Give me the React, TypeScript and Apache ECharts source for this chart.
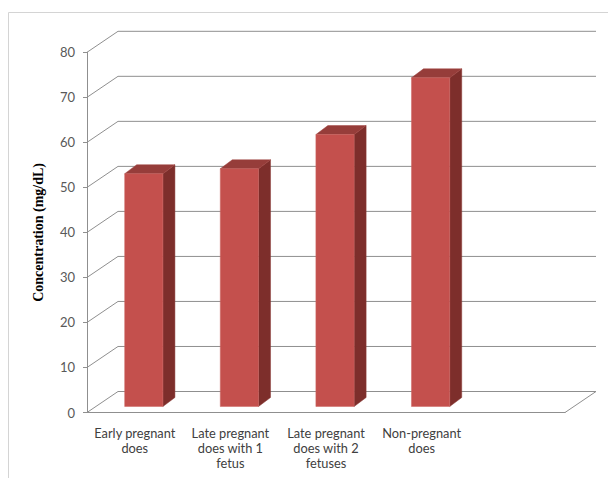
import React, { useEffect, useRef } from "react";
import * as echarts from "echarts";

const categories = [
  "Early pregnant\ndoes",
  "Late pregnant\ndoes with 1\nfetus",
  "Late pregnant\ndoes with 2\nfetuses",
  "Non-pregnant\ndoes",
  "",
];
const concentration = [51.7, 52.8, 60.4, 73.0];
const yTicks = [0, 10, 20, 30, 40, 50, 60, 70, 80];
const yAxisTitle = "Concentration (mg/dL)";

// 3D projection offsets (pixels)
const WALL_DX = 31;
const WALL_DY = 21;
const BAR_OFF_DX = 9;
const BAR_OFF_DY = 6;
const BAR_DX = 12;
const BAR_DY = 9;
const GRID_COLOR = "#8f8f8f";

export default function App() {
  const ref = useRef<HTMLDivElement>(null);
  useEffect(() => {
    if (!ref.current) return;
    const chart = echarts.init(ref.current, undefined, { renderer: "svg" });
    const option: any = {
      animation: false,
      backgroundColor: "#ffffff",
      grid: { left: 87, right: 43, top: 52.3, bottom: 68.5, containLabel: false },
      graphic: [
        {
          type: "polyline",
          shape: { points: [[8.5, 478], [8.5, 12.5], [608, 12.5]] },
          style: { stroke: "#d4d4d4", lineWidth: 1, fill: null },
          z: 0,
        },
      ],
      xAxis: {
        type: "category",
        data: categories,
        boundaryGap: true,
        axisLine: { show: true, lineStyle: { color: GRID_COLOR, width: 1 } },
        axisTick: { show: false },
        axisLabel: {
          interval: 0,
          margin: 13,
          fontFamily: "Lato",
          fontSize: 12.8,
          lineHeight: 15,
          color: "#404040",
        },
        splitLine: { show: false },
      },
      yAxis: {
        type: "value",
        min: 0,
        max: 80,
        interval: 10,
        name: yAxisTitle,
        nameLocation: "middle",
        nameGap: 42,
        nameTextStyle: {
          fontFamily: "Liberation Serif",
          fontWeight: "bold",
          fontSize: 14,
          color: "#000000",
        },
        axisLine: { show: true, lineStyle: { color: GRID_COLOR, width: 1 } },
        axisTick: { show: true, length: 4, lineStyle: { color: GRID_COLOR } },
        axisLabel: {
          margin: 12,
          fontFamily: "Lato",
          fontSize: 13,
          color: "#595959",
        },
        splitLine: { show: false },
      },
      series: [
        {
          type: "custom",
          z: 1,
          silent: true,
          data: yTicks.map((v) => [0, v]),
          renderItem: (params: any, api: any) => {
            const cs = params.coordSys;
            const v = api.value(1);
            const p = api.coord([0, v]);
            const y = p[1];
            const x0 = cs.x;
            const x1 = cs.x + cs.width;
            const children: any[] = [
              {
                type: "polyline",
                shape: {
                  points: [
                    [x0, y],
                    [x0 + WALL_DX, y - WALL_DY],
                    [x1 + WALL_DX, y - WALL_DY],
                  ],
                },
                style: { stroke: GRID_COLOR, lineWidth: 1, fill: null },
              },
            ];
            if (v === 0) {
              children.push({
                type: "line",
                shape: { x1: x1, y1: y, x2: x1 + WALL_DX, y2: y - WALL_DY },
                style: { stroke: GRID_COLOR, lineWidth: 1 },
              });
            }
            return { type: "group", children };
          },
        },
        {
          type: "custom",
          z: 2,
          data: concentration.map((v, i) => [i, v]),
          renderItem: (params: any, api: any) => {
            const i = api.value(0);
            const v = api.value(1);
            const top = api.coord([i, v]);
            const base = api.coord([i, 0]);
            const band = api.size([1, 0])[0];
            const w = band * 0.4;
            const xl = top[0] - w / 2 + BAR_OFF_DX;
            const xr = xl + w;
            const yt = top[1] - BAR_OFF_DY;
            const yb = base[1] - BAR_OFF_DY;
            return {
              type: "group",
              children: [
                {
                  type: "polygon",
                  shape: {
                    points: [
                      [xr, yt],
                      [xr + BAR_DX, yt - BAR_DY],
                      [xr + BAR_DX, yb - BAR_DY],
                      [xr, yb],
                    ],
                  },
                  style: { fill: "#7d2e2b", stroke: "#8a3835", lineWidth: 0.5 },
                },
                {
                  type: "polygon",
                  shape: {
                    points: [
                      [xl, yt],
                      [xl + BAR_DX, yt - BAR_DY],
                      [xr + BAR_DX, yt - BAR_DY],
                      [xr, yt],
                    ],
                  },
                  style: { fill: "#963d3a", stroke: "#a04441", lineWidth: 0.5 },
                },
                {
                  type: "rect",
                  shape: { x: xl, y: yt, width: w, height: yb - yt },
                  style: { fill: "#c4504d", stroke: "#cc6663", lineWidth: 0.5 },
                },
              ],
            };
          },
        },
      ],
    };
    chart.setOption(option);
    return () => chart.dispose();
  }, []);
  return (
    <div
      ref={ref}
      style={{ position: "absolute", left: 0, top: 0, width: 608, height: 481 }}
    />
  );
}
